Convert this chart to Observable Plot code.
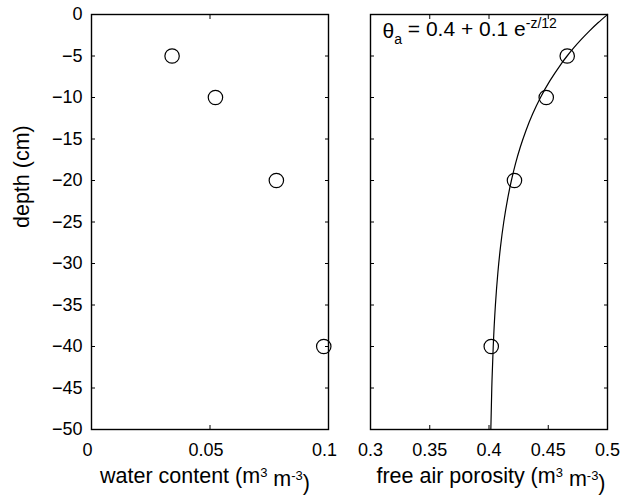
<!DOCTYPE html>
<html>
<head>
<meta charset="utf-8">
<script src="https://cdn.jsdelivr.net/npm/d3@7"></script>
<script src="https://cdn.jsdelivr.net/npm/@observablehq/plot@0.6"></script>
<style>
  html, body { margin: 0; padding: 0; background: #fff; }
  #wrap { position: relative; width: 626px; height: 495px; }
  #wrap svg { position: absolute; top: 0; }
</style>
</head>
<body>
<div id="wrap"></div>
<script>
// Data
const depths = [-5, -10, -20, -40];
const waterContent = [0.034, 0.0523, 0.078, 0.098];
const airPorosity = [0.466, 0.4483, 0.4215, 0.4019];
// fitted curve theta_a = 0.4 + 0.1 e^(-z/12), sampled values
const curveDepth = [0, -1, -2, -3, -4, -5, -6, -8, -10, -12, -14, -16, -18, -20, -22, -25, -28, -31, -35, -40, -45, -50];
const curveTheta = [0.5, 0.4920, 0.48465, 0.47788, 0.47165, 0.46592, 0.46065, 0.45134, 0.44346, 0.43679, 0.43114, 0.42636, 0.42231, 0.41889, 0.41599, 0.41245, 0.40970, 0.40755, 0.40541, 0.40357, 0.40235, 0.40155];
const yTicks = [0, -5, -10, -15, -20, -25, -30, -35, -40, -45, -50];
const xTicksLeft = [0, 0.05, 0.1];
const xTicksRight = [0.3, 0.35, 0.4, 0.45, 0.5];
const xLabelLeft = "water content";
const xLabelRight = "free air porosity";
const yLabel = "depth (cm)";
const formulaText = "θa = 0.4 + 0.1 e-z/12";

const font = "'Liberation Sans', Arial, Helvetica, sans-serif";
const fmtY = d => d < 0 ? "\u2212" + Math.abs(d) : String(d);
const fmtX = d => String(+d.toFixed(2));

const pointsLeft = depths.map((d, i) => ({depth: d, x: waterContent[i]}));
const pointsRight = depths.map((d, i) => ({depth: d, x: airPorosity[i]}));
const curve = curveDepth.map((d, i) => ({depth: d, x: curveTheta[i]}));

function frameMarks(xTicks, labelDx) {
  return [
    Plot.frame({stroke: "#000", strokeWidth: 1.4}),
    // inward ticks on all sides
    Plot.axisX(xTicks, {anchor: "bottom", tickSize: -4, text: null, label: null, stroke: "#000"}),
    Plot.axisX(xTicks, {anchor: "top", tickSize: -4, text: null, label: null, stroke: "#000"}),
    Plot.axisY(yTicks, {anchor: "left", tickSize: -4, text: null, label: null, stroke: "#000"}),
    Plot.axisY(yTicks, {anchor: "right", tickSize: -4, text: null, label: null, stroke: "#000"}),
    // x tick labels
    Plot.axisX(xTicks, {anchor: "bottom", tickSize: 0, tickPadding: 14, tickFormat: fmtX, label: null, fontSize: 18, dx: labelDx, fill: "#000"})
  ];
}

const left = Plot.plot({
  width: 340, height: 495,
  marginLeft: 91, marginRight: 12, marginTop: 14, marginBottom: 66,
  style: {fontFamily: font, background: "transparent", overflow: "visible"},
  x: {domain: [0, 0.1]},
  y: {domain: [-50, 0]},
  marks: [
    ...frameMarks(xTicksLeft, -4),
    Plot.axisY(yTicks, {anchor: "left", tickSize: 0, tickPadding: 9, tickFormat: fmtY, label: null, fontSize: 18, fill: "#000"}),
    Plot.dot(pointsLeft, {x: "x", y: "depth", r: 7.2, stroke: "#000", strokeWidth: 1.2, fill: "none"}),
    Plot.text([xLabelLeft], {frameAnchor: "bottom", dy: 53, dx: -5, text: d => d, fontSize: 21.5, fill: "#000", className: "xlab"}),
    Plot.text([yLabel], {frameAnchor: "left", dx: -69, dy: 6, rotate: -90, text: d => d, fontSize: 21.5, fill: "#000"})
  ]
});

const right = Plot.plot({
  width: 286, height: 495,
  marginLeft: 30, marginRight: 19, marginTop: 14, marginBottom: 66,
  style: {fontFamily: font, background: "transparent", overflow: "visible"},
  x: {domain: [0.3, 0.5]},
  y: {domain: [-50, 0]},
  marks: [
    ...frameMarks(xTicksRight, 0),
    Plot.line(curve, {x: "x", y: "depth", stroke: "#000", strokeWidth: 1.2, curve: "natural"}),
    Plot.dot(pointsRight, {x: "x", y: "depth", r: 7.2, stroke: "#000", strokeWidth: 1.2, fill: "none"}),
    Plot.text([xLabelRight], {frameAnchor: "bottom", dy: 53, dx: 2, text: d => d, fontSize: 21.5, fill: "#000", className: "xlab"}),
    Plot.text([formulaText], {frameAnchor: "top-left", dx: 12, dy: 9, textAnchor: "start", text: d => d, fontSize: 21, fill: "#000", className: "formula"})
  ]
});

left.style.left = "0px";
right.style.left = "340px";
const wrap = document.getElementById("wrap");
wrap.appendChild(left);
wrap.appendChild(right);

// rich text for superscripts/subscripts
function unitLabel(svg) {
  d3.select(svg).selectAll("g.xlab text").each(function() {
    const t = d3.select(this);
    const base = t.text();
    t.text(null);
    t.append("tspan").text(base + " (m");
    t.append("tspan").attr("dy", "-0.45em").attr("font-size", "13").text("3");
    t.append("tspan").attr("dy", "0.45em").text(" m");
    t.append("tspan").attr("dy", "-0.45em").attr("font-size", "13").text("-3");
    t.append("tspan").attr("dy", "0.45em").text(")");
  });
}
unitLabel(left);
unitLabel(right);
d3.select(right).selectAll("g.formula text").each(function() {
  const t = d3.select(this);
  t.text(null);
  t.append("tspan").text("θ");
  t.append("tspan").attr("dy", "0.4em").attr("font-size", "14").text("a");
  t.append("tspan").attr("dy", "-0.4em").text(" = 0.4 + 0.1 e");
  t.append("tspan").attr("dy", "-0.55em").attr("font-size", "14").text("-z/12");
});
</script>
</body>
</html>
